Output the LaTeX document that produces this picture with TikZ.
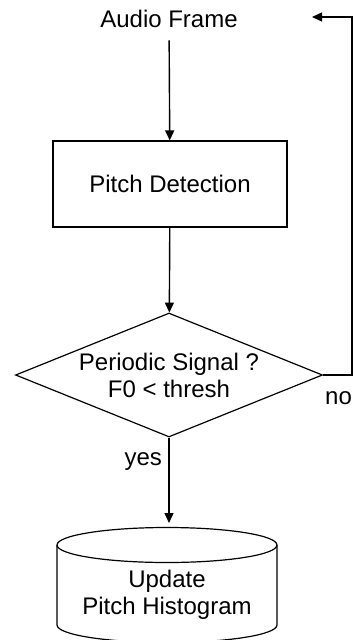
\documentclass[tikz,border=0pt]{standalone}
\usepackage{fontspec}
\setmainfont{Liberation Sans}
\usetikzlibrary{arrows.meta,shapes.geometric,positioning}

\begin{document}
\begin{tikzpicture}[x=1pt,y=-1pt,
  lbl/.style={font=\fontsize{24}{27}\selectfont,align=center},
  procbox/.style={lbl,rectangle,draw,line width=1.2pt,minimum width=234pt,minimum height=86pt},
  decide/.style={lbl,diamond,draw,line width=1.2pt,inner sep=0pt,aspect=2.48,
                 minimum width=307pt,minimum height=124pt},
  drum/.style={line width=1.2pt},
  arrow/.style={-{Triangle[length=10pt,width=9pt]},line width=1.4pt}]
\useasboundingbox (0,0) rectangle (353,640);
\node[lbl]     (audio) at (169,19)  {Audio Frame};
\node[procbox] (pd)    at (170,184) {Pitch Detection};
\node[decide]  (dec)   at (169,375) {Periodic Signal ?\\F0 < thresh};
\node[lbl]     (hist)  at (167,595) {Update\\Pitch Histogram};
\node[lbl,anchor=west,inner sep=0pt] (no) at (325,398) {no};
\draw[drum] (167,545) ellipse[x radius=110,y radius=17.5];
\draw[drum] (57,545) -- (57,625) arc[start angle=180,end angle=0,x radius=110,y radius=17.5] -- (277,545);
\coordinate (histtop) at (169,527);
\coordinate (corner)  at (352,17);
\coordinate (back)    at (312,17);
\draw[arrow,shorten <=9pt] (audio) -- (pd);
\draw[arrow] (pd) -- (dec);
\draw[arrow,shorten >=4pt] (dec) -- node[lbl,pos=0.27,left,xshift=-3pt] (yes) {yes} (histtop);
\draw[arrow] (dec.east) -| (corner) -- (back);
\end{tikzpicture}
\end{document}
